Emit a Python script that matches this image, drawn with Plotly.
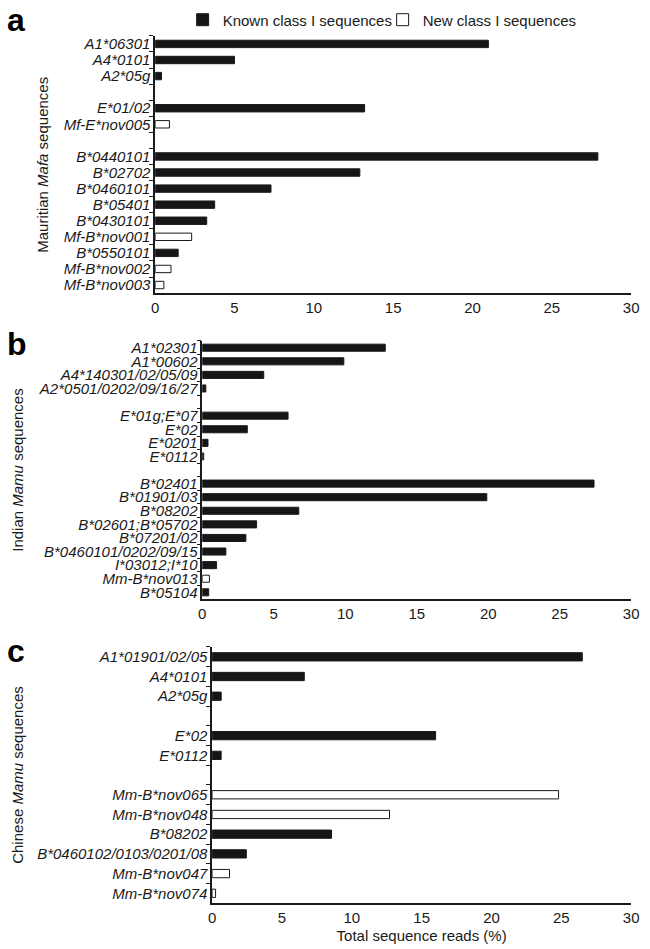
import plotly.graph_objects as go

# ---------------- data ----------------
legend_names = ["Known class I sequences", "New class I sequences"]

a_labels = ["A1*06301", "A4*0101", "A2*05g", "E*01/02", "Mf-E*nov005",
            "B*0440101", "B*02702", "B*0460101", "B*05401", "B*0430101",
            "Mf-B*nov001", "B*0550101", "Mf-B*nov002", "Mf-B*nov003"]
a_values = [21.0, 5.0, 0.4, 13.2, 0.9, 27.9, 12.9, 7.3, 3.75, 3.25, 2.3, 1.45, 1.0, 0.55]
a_new = [0, 0, 0, 0, 1, 0, 0, 0, 0, 0, 1, 0, 1, 1]
a_groups = ["A", "A", "A", "E", "E", "B", "B", "B", "B", "B", "B", "B", "B", "B"]

b_labels = ["A1*02301", "A1*00602", "A4*140301/02/05/09", "A2*0501/0202/09/16/27",
            "E*01g;E*07", "E*02", "E*0201", "E*0112",
            "B*02401", "B*01901/03", "B*08202", "B*02601;B*05702", "B*07201/02",
            "B*0460101/0202/09/15", "I*03012;I*10", "Mm-B*nov013", "B*05104"]
b_values = [12.8, 9.9, 4.3, 0.25, 6.0, 3.15, 0.4, 0.1,
            27.4, 19.9, 6.75, 3.8, 3.05, 1.65, 1.0, 0.5, 0.45]
b_new = [0, 0, 0, 0, 0, 0, 0, 0, 0, 0, 0, 0, 0, 0, 0, 1, 0]
b_groups = ["A"] * 4 + ["E"] * 4 + ["B"] * 9

c_labels = ["A1*01901/02/05", "A4*0101", "A2*05g", "E*02", "E*0112",
            "Mm-B*nov065", "Mm-B*nov048", "B*08202", "B*0460102/0103/0201/08",
            "Mm-B*nov047", "Mm-B*nov074"]
c_values = [26.5, 6.6, 0.65, 16.0, 0.65, 24.8, 12.7, 8.55, 2.45, 1.25, 0.25]
c_new = [0, 0, 0, 0, 0, 1, 1, 0, 0, 1, 1]
c_groups = ["A"] * 3 + ["E"] * 2 + ["B"] * 6

panel_letters = ["a", "b", "c"]
y_titles = ["Mauritian <i>Mafa</i> sequences", "Indian <i>Mamu</i> sequences",
            "Chinese <i>Mamu</i> sequences"]
x_title = "Total sequence reads (%)"
x_ticks = [0, 5, 10, 15, 20, 25, 30]

# ---------------- layout helpers ----------------
W, H = 650, 949
FONT = "Liberation Sans, Arial, sans-serif"


def categories(labels, groups):
    cats, prev, k = [], None, 0
    for lab, g in zip(labels, groups):
        if prev is not None and g != prev:
            k += 1
            cats.append("\u200b" * k)  # empty spacer row between groups
        cats.append(lab)
        prev = g
    return cats


panels = [
    dict(labels=a_labels, values=a_values, new=a_new, groups=a_groups,
         x0=154, x1=639, top=34, bottom=292, width=0.46, title_x=39),
    dict(labels=b_labels, values=b_values, new=b_new, groups=b_groups,
         x0=202, x1=639, top=340, bottom=599, width=0.52, title_x=13),
    dict(labels=c_labels, values=c_values, new=c_new, groups=c_groups,
         x0=212, x1=639, top=647, bottom=904, width=0.42, title_x=13),
]
letter_y = [18, 343, 651]

fig = go.Figure()
layout = dict(
    width=W, height=H, margin=dict(l=0, r=0, t=0, b=0),
    paper_bgcolor="white", plot_bgcolor="white",
    font=dict(family=FONT, size=15, color="#1a1a1a"),
    barmode="overlay", showlegend=True,
    legend=dict(orientation="h", x=182 / W, y=1 - 18 / H, xanchor="left", yanchor="middle",
                bgcolor="rgba(0,0,0,0)", font=dict(size=15), itemclick=False,
                traceorder="normal", entrywidth=155, entrywidthmode="pixels"),
)
annotations = []

for i, p in enumerate(panels):
    n = i + 1
    xa = "x" if n == 1 else f"x{n}"
    ya = "y" if n == 1 else f"y{n}"
    cats = categories(p["labels"], p["groups"])
    for kind, (name, fill) in enumerate(zip(legend_names, ["#161616", "white"])):
        ys = [lab for lab, f in zip(p["labels"], p["new"]) if f == kind]
        xs = [v for v, f in zip(p["values"], p["new"]) if f == kind]
        fig.add_trace(go.Bar(
            x=xs, y=ys, orientation="h", name=name, width=p["width"],
            marker=dict(color=fill, line=dict(color="#1a1a1a", width=1)),
            xaxis=xa, yaxis=ya, legendgroup=name, showlegend=(i == 0),
        ))
    xkey = "xaxis" if n == 1 else f"xaxis{n}"
    ykey = "yaxis" if n == 1 else f"yaxis{n}"
    layout[xkey] = dict(
        domain=[p["x0"] / W, p["x1"] / W], anchor=ya, range=[0, 30],
        tickmode="array", tickvals=x_ticks, showgrid=False, zeroline=False,
        showline=True, linecolor="#1a1a1a", linewidth=1.5, ticks="",
        ticklabelstandoff=0, tickfont=dict(size=15), fixedrange=True,
    )
    layout[ykey] = dict(
        domain=[1 - p["bottom"] / H, 1 - p["top"] / H], anchor=xa,
        type="category", categoryorder="array", categoryarray=cats,
        range=[len(cats) - 0.5, -0.5], showgrid=False, zeroline=False,
        showline=True, linecolor="#1a1a1a", linewidth=1.5,
        tickmode="linear", tick0=0, dtick=1,
        ticks="outside", tickson="boundaries", ticklen=4, tickwidth=1,
        tickcolor="#1a1a1a", tickfont=dict(size=15, style="italic"),
        fixedrange=True,
    )
    annotations.append(dict(
        text=y_titles[i], textangle=-90, xref="paper", yref="paper",
        x=p["title_x"] / W, y=1 - (p["top"] + p["bottom"]) / 2 / H,
        xanchor="center", yanchor="middle", showarrow=False, font=dict(size=15)))
    annotations.append(dict(
        text=f"<b>{panel_letters[i]}</b>", xref="paper", yref="paper",
        x=1 / W, y=1 - letter_y[i] / H, xanchor="left", yanchor="middle",
        showarrow=False, font=dict(size=32, color="black")))

layout["xaxis3"]["title"] = dict(text=x_title, font=dict(size=15), standoff=6)
layout["annotations"] = annotations
fig.update_layout(**layout)
fig.write_html("out.html", config={"displayModeBar": False},
               post_script="document.body.style.margin='0';")
